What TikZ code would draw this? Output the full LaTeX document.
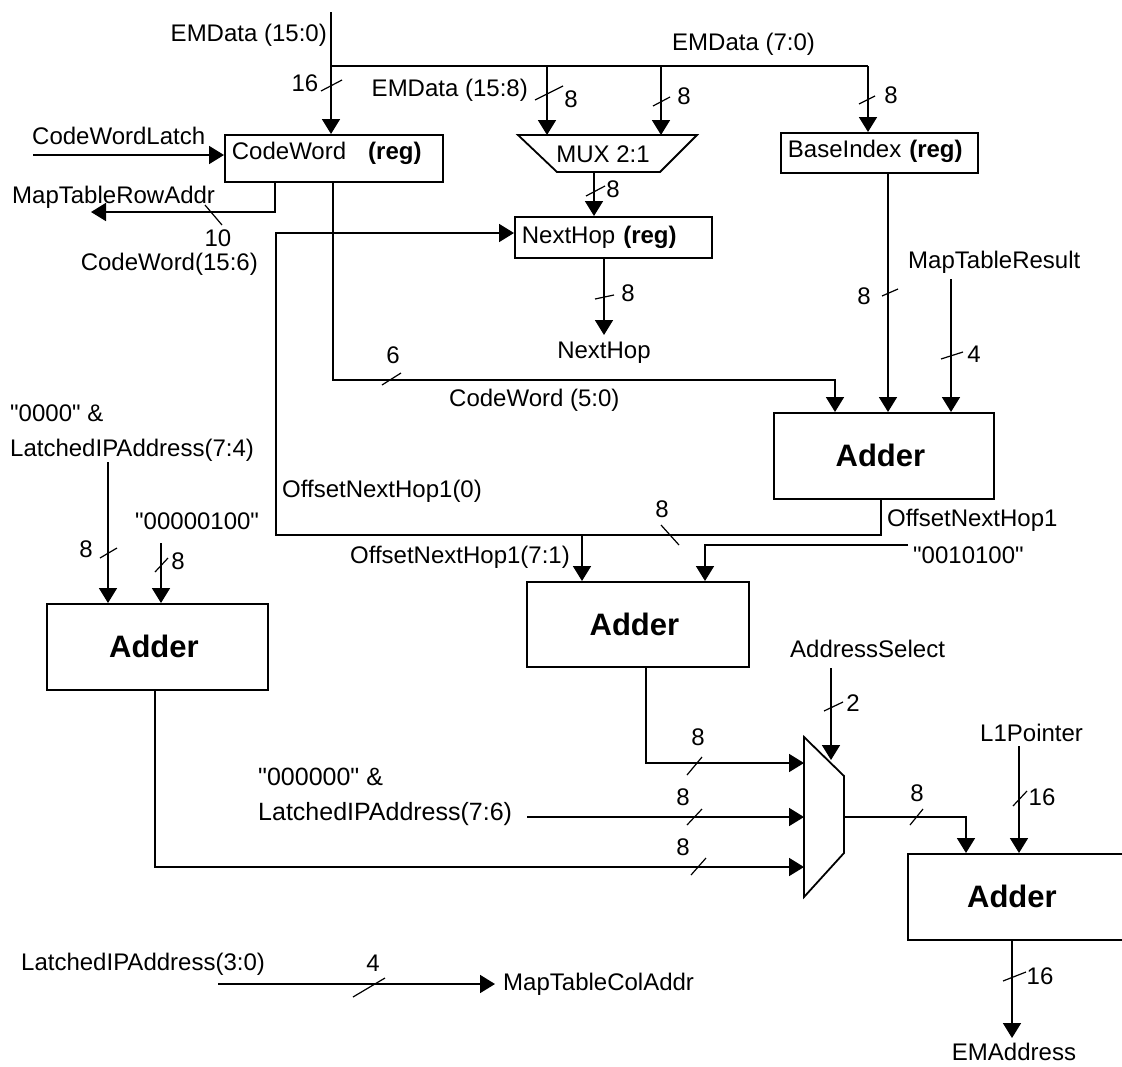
\documentclass[tikz,border=0pt]{standalone}
\usepackage{fontspec}
\newfontfamily\labelfont{Liberation Sans}
\usetikzlibrary{arrows.meta, positioning}
\begin{document}
\begin{tikzpicture}[
      x=1pt, y=-1pt,
      >={Triangle[length=15pt,width=18pt]},
      every node/.style={font=\labelfont\fontsize{24}{35}\selectfont, inner sep=0pt},
      wire/.style={line width=1.8pt},
      tick/.style={line width=1.2pt},
      regbox/.style={draw, line width=1.8pt, anchor=north west, align=left,
        inner xsep=7pt},
      adder/.style={draw, line width=1.8pt, anchor=north west,
        font=\labelfont\fontsize{31}{36}\selectfont\bfseries,
        execute at end node={\hspace{7pt}}},
      lbl/.style={anchor=mid, yshift=-4pt},
      lblw/.style={anchor=mid west, yshift=-4pt},
      lble/.style={anchor=mid east, yshift=-4pt}
    ]
      \useasboundingbox (0,0) rectangle (1122,1066);

      % registers and adders
      \node[regbox, text width=204pt, text height=24.5pt, text depth=22.5pt]
        (codeword) at (224,134) {CodeWord\hspace{22pt}\textbf{(reg)}};
      \node[regbox, text width=183pt, text height=27pt, text depth=14pt]
        (nexthop) at (514,216) {NextHop \textbf{(reg)}};
      \node[regbox, text width=183pt, text height=24.5pt, text depth=15.5pt, inner xsep=7pt]
        (baseindex) at (780,132) {BaseIndex \textbf{(reg)}};
      \node[adder, minimum width=220pt, minimum height=86pt] (adderbase) at (773,412) {Adder};
      \node[adder, minimum width=222pt, minimum height=85pt] (adderhop) at (526,581) {Adder};
      \node[adder, minimum width=221pt, minimum height=86pt] (adderip) at (46,603) {Adder};
      \node[adder, minimum width=215pt, minimum height=86pt] (adderem) at (907,853) {Adder};

      % multiplexers
      \draw[wire] (518,135) -- (697,135) -- (660,172) -- (557,172) -- cycle;
      \node[lbl] (muxhop) at (603,156) {MUX 2:1};
      \coordinate (muxtop) at (607,135);
      \draw[wire] (804,737) -- (844,776) -- (844,853) -- (804,897) -- cycle;
      \coordinate (muxin) at (804,817);
      \coordinate (muxoutstart) at (844,817);

      % free ends of the wires
      \coordinate (emdatain) at (331,12);
      \coordinate (embranch) at (331,66);
      \coordinate (emhigh) at (547,66);
      \coordinate (emlow) at (661,66);
      \coordinate (emend) at (868,66);
      \coordinate (latchin) at (33,155);
      \coordinate (rowaddr) at (91,212);
      \coordinate (rowout) at (275,212);
      \coordinate (offset) at (881,535);
      \coordinate (feedback) at (276,233);
      \coordinate (hopbranch) at (582,535);
      \coordinate (constin) at (908,545);
      \coordinate (constend) at (705,545);
      \coordinate (hopout) at (604,335);
      \coordinate (muxdown) at (594,172);
      \coordinate (indexout) at (888,172);
      \coordinate (resultin) at (951,279);
      \coordinate (lowword) at (835,380);
      \coordinate (lowstart) at (333,380);
      \coordinate (ipin) at (108,462);
      \coordinate (fourin) at (161,543);
      \coordinate (hopsum) at (646,763);
      \coordinate (ipmid) at (527,817);
      \coordinate (ipsum) at (155,867);
      \coordinate (selin) at (831,668);
      \coordinate (seltip) at (831,760);
      \coordinate (muxout) at (966,817);
      \coordinate (l1in) at (1019,746);
      \coordinate (emaddr) at (1012,1038);
      \coordinate (colin) at (218,984);
      \coordinate (colout) at (495,984);

      % wires
      \draw[wire, ->] (emdatain) -- (emdatain |- codeword.north);
      \draw[wire] (embranch) -- (emend);
      \draw[wire, ->] (emhigh) -- (emhigh |- muxtop);
      \draw[wire, ->] (emlow) -- (emlow |- muxtop);
      \draw[wire, ->] (emend) -- (emend |- baseindex.north);
      \draw[wire, ->] (latchin) -- (latchin -| codeword.west);
      \draw[wire, ->] (rowout |- codeword.south) -- (rowout) -- (rowaddr);
      \draw[wire, ->] (lowstart |- codeword.south) -- (lowstart) -- (lowword) -- (lowword |- adderbase.north);
      \draw[wire, ->] (muxdown) -- (muxdown |- nexthop.north);
      \draw[wire, ->] (hopout |- nexthop.south) -- (hopout);
      \draw[wire, ->] (indexout) -- (indexout |- adderbase.north);
      \draw[wire, ->] (resultin) -- (resultin |- adderbase.north);
      \draw[wire, ->] (offset |- adderbase.south) -- (offset) -- (feedback |- offset) -- (feedback) -- (feedback -| nexthop.west);
      \draw[wire, ->] (hopbranch) -- (hopbranch |- adderhop.north);
      \draw[wire, ->] (constin) -- (constend) -- (constend |- adderhop.north);
      \draw[wire, ->] (ipin) -- (ipin |- adderip.north);
      \draw[wire, ->] (fourin) -- (fourin |- adderip.north);
      \draw[wire, ->] (hopsum |- adderhop.south) -- (hopsum) -- (hopsum -| muxin);
      \draw[wire, ->] (ipmid) -- (muxin);
      \draw[wire, ->] (ipsum |- adderip.south) -- (ipsum) -- (ipsum -| muxin);
      \draw[wire, ->] (selin) -- (seltip);
      \draw[wire, ->] (muxoutstart) -- (muxout) -- (muxout |- adderem.north);
      \draw[wire, ->] (l1in) -- (l1in |- adderem.north);
      \draw[wire, ->] (emaddr |- adderem.south) -- (emaddr);
      \draw[wire, ->] (colin) -- (colout);

      % bus width marks
      \draw[tick] (321,91) -- (342,80);
      \draw[tick] (535,100) -- (563,86);
      \draw[tick] (653,106) -- (670,97);
      \draw[tick] (859,104) -- (875,96);
      \draw[tick] (586,196) -- (605,186);
      \draw[tick] (205,205) -- (222,225);
      \draw[tick] (595,299) -- (614,295);
      \draw[tick] (882,296) -- (898,289);
      \draw[tick] (941,359) -- (963,352);
      \draw[tick] (382,385) -- (401,373);
      \draw[tick] (661,525) -- (679,545);
      \draw[tick] (100,558) -- (117,548);
      \draw[tick] (155,572) -- (168,558);
      \draw[tick] (824,711) -- (843,702);
      \draw[tick] (687,775) -- (702,757);
      \draw[tick] (687,825) -- (702,809);
      \draw[tick] (691,875) -- (706,858);
      \draw[tick] (910,825) -- (923,809);
      \draw[tick] (1013,806) -- (1027,791);
      \draw[tick] (1003,981) -- (1026,972);
      \draw[tick] (353,997) -- (385,978);

      % signal names
      \node[lble] (emdatafull) at (327,35) {EMData (15:0)};
      \node[lble] (emdatahigh) at (528,90) {EMData (15:8)};
      \node[lblw] (emdatalow) at (672,44) {EMData (7:0)};
      \node[lblw] (latchname) at (32,138) {CodeWordLatch};
      \node[lblw] (rowname) at (12,197) {MapTableRowAddr};
      \node[lble] (highword) at (258,264) {CodeWord(15:6)};
      \node[lblw] (lowname) at (449,400) {CodeWord (5:0)};
      \node[below=7pt of hopout] (hopname) {NextHop};
      \node[lblw] (resultname) at (908,262) {MapTableResult};
      \node[lblw] (offsetname) at (887,520) {OffsetNextHop1};
      \node[lblw] (offsetzero) at (282,491) {OffsetNextHop1(0)};
      \node[lble] (offsethigh) at (570,557) {OffsetNextHop1(7:1)};
      \node[lblw] (constname) at (913,557) {"0010100"};
      \node[anchor=west, align=left] (ipfour) at (10,433) {"0000" \&\\LatchedIPAddress(7:4)};
      \node[lblw] (fourname) at (135,523) {"00000100"};
      \node[anchor=west, align=left, font=\labelfont\fontsize{25}{35}\selectfont] (ipsix) at (258,797) {"000000" \&\\LatchedIPAddress(7:6)};
      \node[lblw] (selname) at (790,651) {AddressSelect};
      \node[lblw] (l1name) at (980,735) {L1Pointer};
      \node[lbl] (emaddrname) at (1014,1054) {EMAddress};
      \node[lblw] (colname) at (21,964) {LatchedIPAddress(3:0)};
      \node[lblw] (coladdr) at (503,984) {MapTableColAddr};

      % bus widths
      \node[lbl] (wfull) at (305,85) {16};
      \node[lbl] (whigh) at (571,101) {8};
      \node[lbl] (wlow) at (684,98) {8};
      \node[lbl] (wbase) at (891,97) {8};
      \node[lbl] (wmux) at (613,191) {8};
      \node[lbl] (wrow) at (218,240) {10};
      \node[lbl] (whop) at (628,295) {8};
      \node[lbl] (windex) at (864,298) {8};
      \node[lbl] (wresult) at (974,356) {4};
      \node[lbl] (wword) at (393,357) {6};
      \node[lbl] (woffset) at (662,511) {8};
      \node[lbl] (wipfour) at (86,551) {8};
      \node[lbl] (wconst) at (178,563) {8};
      \node[lbl] (wsel) at (853,705) {2};
      \node[lbl] (wsum) at (698,739) {8};
      \node[lbl] (wmid) at (683,799) {8};
      \node[lbl] (wip) at (683,849) {8};
      \node[lbl] (wout) at (917,795) {8};
      \node[lbl] (wl1) at (1042,799) {16};
      \node[lbl] (wem) at (1040,978) {16};
      \node[lbl] (wcol) at (373,965) {4};
    \end{tikzpicture}
\end{document}
